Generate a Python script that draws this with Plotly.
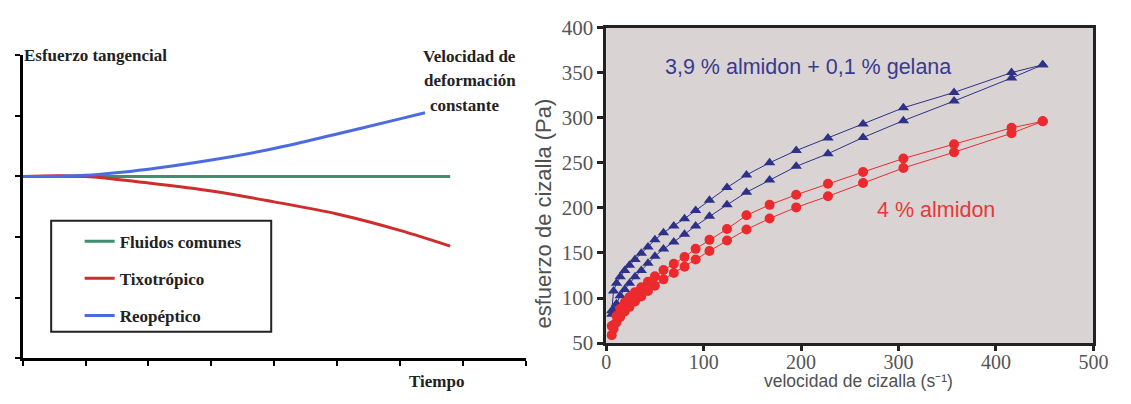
import plotly.graph_objects as go

# ---------------- left panel (schematic) ----------------
t_comun = [0, 6.8]
s_comun = [3, 3]
t_tixo = [0, 1, 2, 3, 4, 5, 6, 6.8]
s_tixo = [3, 3.0, 2.89, 2.76, 2.58, 2.38, 2.11, 1.85]
t_reo = [0, 1, 2, 3, 4, 5, 6, 6.4]
s_reo = [3, 3.02, 3.12, 3.27, 3.46, 3.70, 3.95, 4.05]
left_names = ["Fluidos comunes", "Tixotrópico", "Reopéptico"]

# ---------------- right panel (measured) ----------------
shear = [5.7, 7.6, 10.6, 14.4, 19, 23.9, 29.6, 36, 42.9, 50, 58.8, 69.4, 80.4,
         91.8, 106, 124, 144, 167.7, 195, 227.6, 263.6, 305, 357, 416, 448]
gel_up = [86, 107.7, 116.5, 123.5, 130.5, 136.4, 142.7, 149.7, 156.7, 164.5,
          172.5, 180, 188, 197, 208.5, 222.5, 236.5, 250, 263.5, 277.5, 293,
          311, 328, 350, 358.7]
gel_down = [82, 86.7, 93.7, 102.5, 109.5, 116.5, 123.5, 130.5, 138.5, 146.3,
            154.3, 162, 170.7, 180, 190.7, 203.3, 217.3, 231, 246, 260, 278,
            296.7, 318.4, 344, 358.7]
alm_up = [69, 70, 80, 88, 95, 101, 106.5, 112, 118, 124, 131, 138, 145.5,
          154.5, 164.5, 176.5, 191.7, 203.3, 214.5, 226.7, 239.7, 254.7, 270.5,
          288.7, 296]
alm_down = [58.8, 66, 73, 79, 85, 90.2, 96.2, 101.8, 107.8, 113.7, 120.7, 127.7,
            134.7, 142.7, 152.2, 163.7, 176, 188.2, 200.5, 212.8, 227.5, 244.2,
            261.7, 282.7, 296]

W, H = 1131, 404
def px(x):
    return x / W
def py(y):
    return 1 - y / H

GREEN = "#3f8f6e"
RED_L = "#cf2d2d"
BLUE_L = "#4d6be0"
NAVY = "#2e3188"
RED = "#ec2a2e"
SERIF = "Liberation Serif"
SANS = "Liberation Sans"
LFONT = dict(family=SERIF, size=17, color="#222", weight="bold")
TFONT_COLOR = "#505050"

fig = go.Figure()
for t, s, name, col in [(t_comun, s_comun, left_names[0], GREEN),
                        (t_tixo, s_tixo, left_names[1], RED_L),
                        (t_reo, s_reo, left_names[2], BLUE_L)]:
    fig.add_trace(go.Scatter(x=t, y=s, mode="lines", name=name,
                             line=dict(color=col, width=3, shape="spline"),
                             xaxis="x", yaxis="y", legendgroup=name))

for yv, col, sym in [(gel_up, NAVY, "triangle-up"), (gel_down, NAVY, "triangle-up"),
                     (alm_up, RED, "circle"), (alm_down, RED, "circle")]:
    fig.add_trace(go.Scatter(x=shear, y=yv, mode="lines+markers", showlegend=False,
                             line=dict(color=col, width=1),
                             marker=dict(symbol=sym, size=10, color=col),
                             xaxis="x2", yaxis="y2"))

fig.update_layout(
    width=W, height=H, margin=dict(l=0, r=0, t=0, b=0),
    paper_bgcolor="white", plot_bgcolor="white",
    xaxis=dict(domain=[px(18), px(530)], range=[0, 8], tickvals=list(range(9)),
               showticklabels=False, ticks="outside", ticklen=5, tickwidth=2,
               tickcolor="black", showline=True, linecolor="black", linewidth=2.5,
               showgrid=False, zeroline=False, fixedrange=True),
    yaxis=dict(domain=[py(368), py(46)], range=[0, 5], tickvals=list(range(6)),
               showticklabels=False, ticks="outside", ticklen=5, tickwidth=2,
               tickcolor="black", showline=True, linecolor="black", linewidth=2.5,
               showgrid=False, zeroline=False, fixedrange=True),
    xaxis2=dict(domain=[px(612), px(1108)], range=[0, 500], tickvals=[0, 100, 200, 300, 400, 500],
                anchor="y2", ticks="outside", ticklen=5, tickwidth=2.5, tickcolor="#222",
                showline=True, mirror=True, linecolor="#222", linewidth=2.5,
                showgrid=False, zeroline=False, ticklabelstandoff=-6,
                tickfont=dict(family=SERIF, size=20, color="#555")),
    yaxis2=dict(domain=[py(352), py(16.5)], range=[50, 400],
                tickvals=[50, 100, 150, 200, 250, 300, 350, 400],
                anchor="x2", ticks="outside", ticklen=6, tickwidth=2.5, tickcolor="#222",
                showline=True, mirror=True, linecolor="#222", linewidth=2.5,
                showgrid=False, zeroline=False,
                tickfont=dict(family=SERIF, size=21, color="#555")),
    legend=dict(x=px(76), y=py(225), xanchor="left", yanchor="top",
                bgcolor="rgba(0,0,0,0)", borderwidth=0, tracegroupgap=12,
                font=LFONT),
    shapes=[dict(type="rect", xref="paper", yref="paper",
                 x0=px(47), x1=px(271), y0=py(340), y1=py(222),
                 line=dict(color="#222", width=2), fillcolor="white", layer="below")],
    annotations=[
        dict(text="Esfuerzo tangencial", x=px(17), y=py(46), xanchor="left", yanchor="middle",
             showarrow=False, xref="paper", yref="paper", font=LFONT),
        dict(text="Velocidad de", x=px(473), y=py(47), xanchor="center", yanchor="middle",
             showarrow=False, xref="paper", yref="paper", font=LFONT),
        dict(text="deformación", x=px(473), y=py(73), xanchor="center", yanchor="middle",
             showarrow=False, xref="paper", yref="paper", font=LFONT),
        dict(text="constante", x=px(468), y=py(99), xanchor="center", yanchor="middle",
             showarrow=False, xref="paper", yref="paper", font=LFONT),
        dict(text="Tiempo", x=px(439), y=py(393), xanchor="center", yanchor="middle",
             showarrow=False, xref="paper", yref="paper", font=LFONT),
        dict(text="3,9 % almidon + 0,1 % gelana", x=px(670), y=py(58), xanchor="left",
             yanchor="middle", showarrow=False, xref="paper", yref="paper",
             font=dict(family=SANS, size=21.5, color="#3a3a8e")),
        dict(text="4 % almidon", x=px(886), y=py(210), xanchor="left",
             yanchor="middle", showarrow=False, xref="paper", yref="paper",
             font=dict(family=SANS, size=21.5, color="#e8383a")),
        # axis titles of the right panel
        dict(text="velocidad de cizalla (s⁻¹)", x=px(869), y=0,
             xanchor="center", yanchor="bottom", showarrow=False, xref="paper", yref="paper",
             borderpad=0, font=dict(family=SANS, size=17.5, color=TFONT_COLOR)),
        dict(text="esfuerzo de cizalla (Pa)", x=px(548), y=py(214), textangle=-90,
             xanchor="center", yanchor="middle", showarrow=False, xref="paper", yref="paper",
             font=dict(family=SANS, size=22, color=TFONT_COLOR)),
    ],
)
fig.add_shape(type="rect", xref="x2 domain", yref="y2 domain", x0=0, x1=1, y0=0, y1=1,
              fillcolor="#d9d4d3", line=dict(width=0), layer="below")

fig.write_html("out.html")
